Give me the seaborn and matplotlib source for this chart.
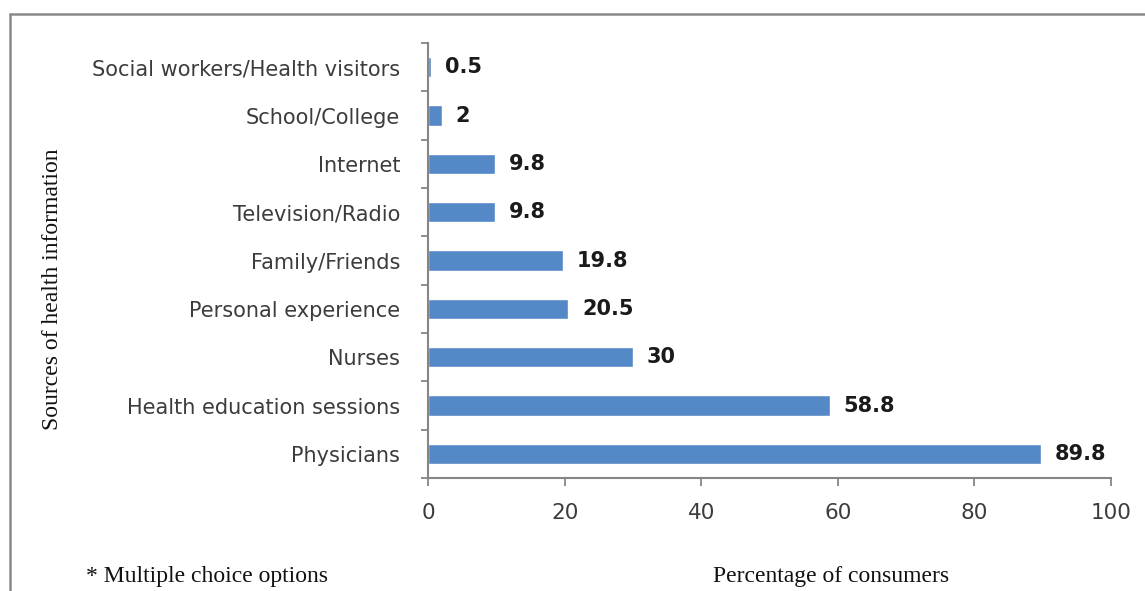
import numpy as np
import pandas as pd
import matplotlib
matplotlib.use("Agg")
import matplotlib.pyplot as plt
from matplotlib.lines import Line2D
import seaborn as sns

sources = [
    "Social workers/Health visitors",
    "School/College",
    "Internet",
    "Television/Radio",
    "Family/Friends",
    "Personal experience",
    "Nurses",
    "Health education sessions",
    "Physicians",
]
percent = [0.5, 2, 9.8, 9.8, 19.8, 20.5, 30, 58.8, 89.8]
value_labels = ["0.5", "2", "9.8", "9.8", "19.8", "20.5", "30", "58.8", "89.8"]
x_ticks = [0, 20, 40, 60, 80, 100]

df = pd.DataFrame({"source": sources, "percent": percent})

sns.set_theme(style="white")
plt.rcParams["font.family"] = ["DejaVu Sans"]

axis_grey = "#868686"
bar_blue = "#5588c7"
tick_text = "#3c3c3c"

fig = plt.figure(figsize=(11.45, 5.91), dpi=100)
ax = fig.add_axes([0.3738, 0.1912, 0.9703 - 0.3738, 0.9272 - 0.1912])

sns.barplot(data=df, x="percent", y="source", order=sources, orient="h",
            color=bar_blue, saturation=1, width=0.42, ax=ax)

ax.set_xlim(0, 100)
ax.set_ylim(len(sources) - 0.5, -0.5)
ax.set_xticks(x_ticks)
ax.set_xticklabels([str(t) for t in x_ticks], fontsize=15.5, color=tick_text)
ax.set_yticks(range(len(sources)))
ax.set_yticklabels(sources, fontsize=15, color=tick_text)

# category separators as outward ticks on the value axis
ax.set_yticks(np.arange(-0.5, len(sources), 1), minor=True)
ax.tick_params(axis="y", which="major", length=0, pad=20)
ax.tick_params(axis="y", which="minor", length=5, width=1.3, color=axis_grey,
               direction="out", left=True)
ax.tick_params(axis="x", which="major", length=6, width=1.3, color=axis_grey,
               direction="out", bottom=True, pad=12)

for side in ["top", "right"]:
    ax.spines[side].set_visible(False)
for side in ["left", "bottom"]:
    ax.spines[side].set_color(axis_grey)
    ax.spines[side].set_linewidth(1.5)

ax.set_xlabel("")
ax.set_ylabel("")

for i, (v, lab) in enumerate(zip(percent, value_labels)):
    ax.annotate(lab, xy=(v, i), xytext=(10, 0), textcoords="offset points",
                va="center", ha="left", fontsize=15, fontweight="bold",
                color="#1a1a1a")

serif = ["Liberation Serif", "DejaVu Serif"]
fig.text(0.0455, 0.51, "Sources of health information", rotation=90,
         ha="center", va="center", fontsize=17, family=serif, color="#111111")
fig.text(0.726, 0.024, "Percentage of consumers", ha="center", va="center",
         fontsize=17, family=serif, color="#111111")
fig.text(0.0755, 0.024, "* Multiple choice options", ha="left", va="center",
         fontsize=17, family=serif, color="#111111")

# outer frame: top and left edges
fig.add_artist(Line2D([10 / 1145, 1.0], [1 - 14 / 591, 1 - 14 / 591],
                      transform=fig.transFigure, color="#8a8a8a", lw=1.8))
fig.add_artist(Line2D([10 / 1145, 10 / 1145], [0.0, 1 - 14 / 591],
                      transform=fig.transFigure, color="#8a8a8a", lw=1.8))

fig.savefig("out.png", dpi=100, facecolor="white")
